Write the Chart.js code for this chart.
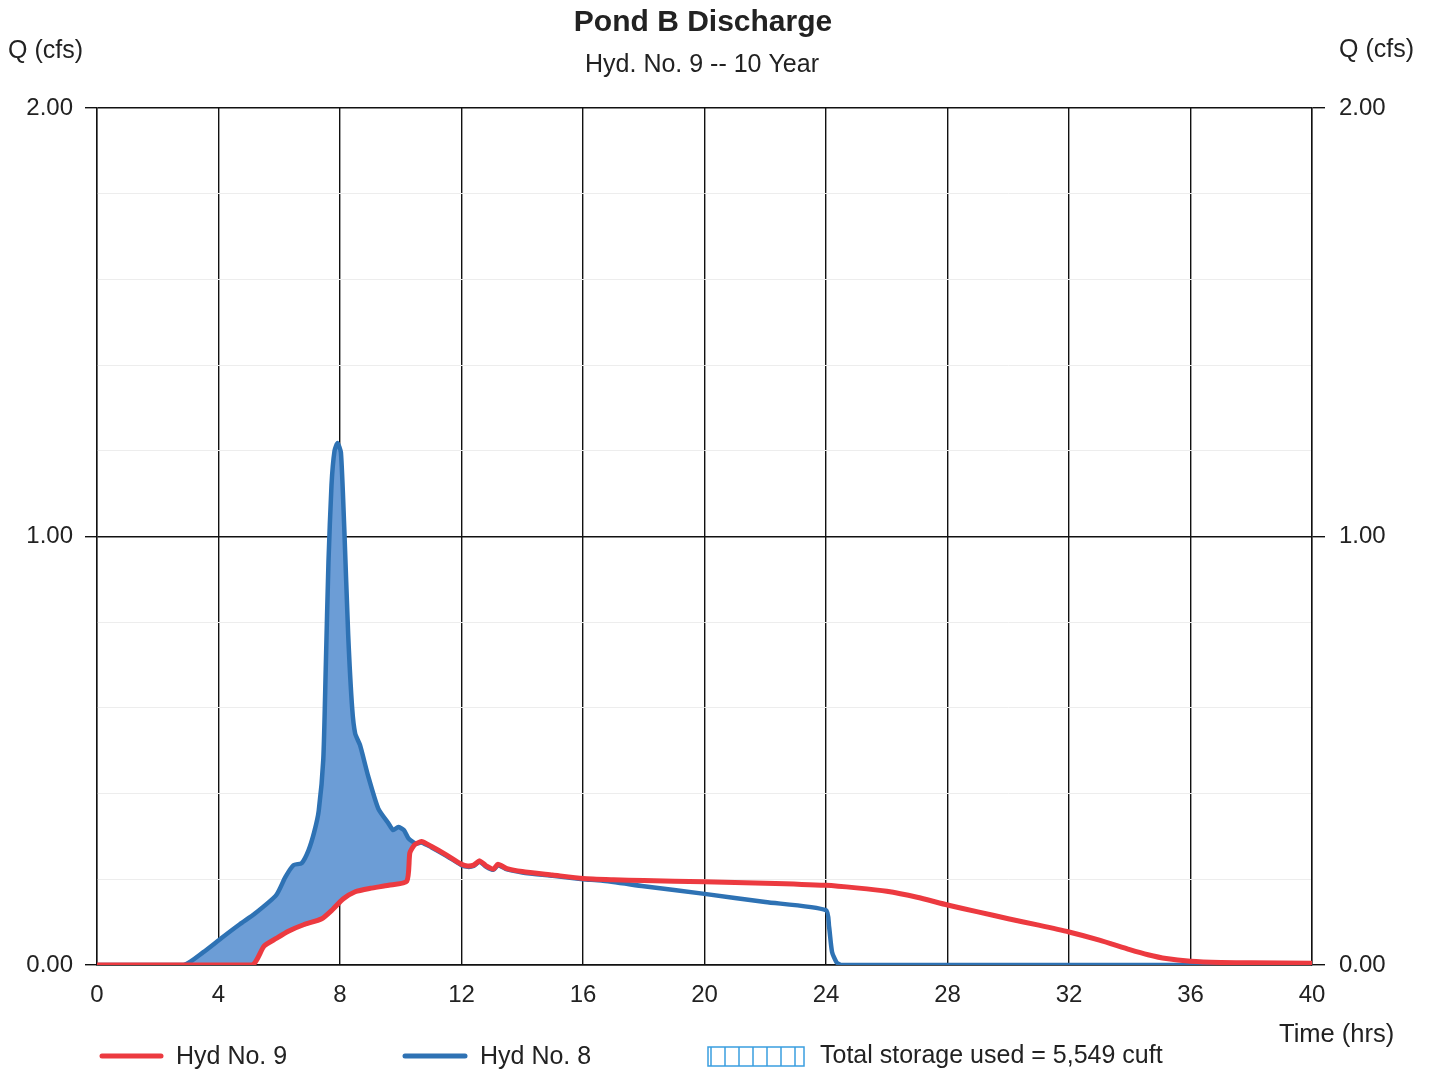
<!DOCTYPE html>
<html>
<head>
<meta charset="utf-8">
<script src="https://cdn.jsdelivr.net/npm/chart.js@4.4.1/dist/chart.umd.min.js"></script>
<style>
  html, body { margin: 0; padding: 0; background: #ffffff; }
  #wrap { width: 1435px; height: 1072px; position: relative; }
</style>
</head>
<body>
<div id="wrap"><canvas id="c" width="1435" height="1072"></canvas></div>
<script>
// ---- Data ----
const chartTitle = "Pond B Discharge";
const chartSubtitle = "Hyd. No. 9 -- 10 Year";
const yAxisTitle = "Q (cfs)";
const xAxisTitle = "Time (hrs)";
const storageLabel = "Total storage used = 5,549 cuft";

const xTicks = [0, 4, 8, 12, 16, 20, 24, 28, 32, 36, 40];
const yTicks = [0, 1, 2];

// Hyd No. 9 (outflow, red)
const hyd9Time = [0, 5.1, 5.5, 5.9, 6.3, 6.8, 7.4, 7.75, 8.1, 8.5, 9.0, 9.6, 10.2, 10.3, 10.45, 10.68, 11.0, 11.5, 12.0, 12.2, 12.4, 12.6, 12.8, 13.05, 13.2, 13.5, 14.0, 15.0, 16.0, 17.0, 18.0, 20.0, 22.0, 24.0, 25.0, 26.0, 27.0, 28.0, 29.0, 30.0, 31.0, 32.0, 33.0, 34.0, 34.6, 35.2, 36.0, 37.0, 38.0, 40.0];
const hyd9Q    = [0, 0, 0.044, 0.062, 0.079, 0.094, 0.108, 0.129, 0.154, 0.171, 0.179, 0.186, 0.196, 0.262, 0.28, 0.288, 0.277, 0.257, 0.235, 0.231, 0.233, 0.243, 0.232, 0.224, 0.235, 0.225, 0.218, 0.21, 0.202, 0.199, 0.197, 0.194, 0.191, 0.186, 0.18, 0.172, 0.158, 0.14, 0.124, 0.108, 0.093, 0.077, 0.058, 0.036, 0.024, 0.015, 0.009, 0.006, 0.005, 0.004];

// Hyd No. 8 (inflow, blue)
const hyd8Time = [0, 2.85, 3.5, 4.1, 4.7, 5.2, 5.9, 6.2, 6.47, 6.74, 6.96, 7.15, 7.3, 7.45, 7.53, 7.62, 7.72, 7.82, 7.92, 8.03, 8.14, 8.27, 8.4, 8.5, 8.66, 8.93, 9.26, 9.6, 9.75, 9.92, 10.1, 10.25, 10.5, 10.68, 11.0, 11.5, 12.0, 12.2, 12.4, 12.6, 12.8, 13.05, 13.2, 13.5, 14.0, 15.0, 16.0, 16.6, 18.0, 20.0, 22.0, 24.0, 24.1, 24.2, 24.35, 24.5, 28.0, 32.0, 36.0, 40.0];
const hyd8Q    = [0, 0, 0.03, 0.063, 0.095, 0.12, 0.163, 0.205, 0.233, 0.238, 0.267, 0.31, 0.36, 0.48, 0.69, 0.94, 1.12, 1.2, 1.218, 1.196, 1.02, 0.77, 0.6, 0.54, 0.513, 0.44, 0.365, 0.33, 0.315, 0.322, 0.315, 0.296, 0.283, 0.286, 0.275, 0.255, 0.233, 0.229, 0.231, 0.241, 0.23, 0.222, 0.233, 0.223, 0.216, 0.208, 0.2, 0.197, 0.184, 0.166, 0.147, 0.128, 0.09, 0.03, 0.006, 0, 0, 0, 0, 0];

// ---- Helpers ----
const toXY = (xs, ys) => xs.map((x, i) => ({ x: x, y: ys[i] }));
const isMajor = v => Math.abs(v - Math.round(v)) < 1e-6;
const FONT = "'Liberation Sans', Arial, sans-serif";

const overlayPlugin = {
  id: 'overlay',
  afterDraw(chart) {
    const ctx = chart.ctx;
    ctx.save();
    ctx.fillStyle = '#222';
    ctx.textBaseline = 'middle';
    // title
    ctx.textAlign = 'center';
    ctx.font = 'bold 30px ' + FONT;
    ctx.fillText(chartTitle, 703, 23);
    ctx.font = '25px ' + FONT;
    ctx.fillText(chartSubtitle, 702, 65);
    // axis titles
    ctx.textAlign = 'left';
    ctx.fillText(yAxisTitle, 8, 51);
    ctx.fillText(yAxisTitle, 1339, 50);
    ctx.font = '25.5px ' + FONT;
    ctx.fillText(xAxisTitle, 1279, 1035);
    // legend
    ctx.font = '25px ' + FONT;
    ctx.lineCap = 'round';
    ctx.lineWidth = 5;
    ctx.strokeStyle = '#ec3a40';
    ctx.beginPath(); ctx.moveTo(102, 1056); ctx.lineTo(161, 1056); ctx.stroke();
    ctx.strokeStyle = '#2e72b4';
    ctx.beginPath(); ctx.moveTo(405, 1056); ctx.lineTo(465, 1056); ctx.stroke();
    ctx.fillText('Hyd No. 9', 176, 1057);
    ctx.fillText('Hyd No. 8', 480, 1057);
    ctx.fillText(storageLabel, 820, 1056);
    // storage pattern box
    ctx.lineCap = 'butt';
    ctx.lineWidth = 1.5;
    ctx.strokeStyle = '#3a9ee0';
    ctx.strokeRect(708, 1047, 96, 19);
    ctx.beginPath();
    for (let x = 711; x < 804; x += 14) {
      ctx.moveTo(x, 1047); ctx.lineTo(x, 1066);
    }
    ctx.stroke();
    ctx.restore();
  }
};

const yTickCb = v => (isMajor(v) && yTicks.includes(Math.round(v))) ? Math.round(v).toFixed(2) : '';

new Chart(document.getElementById('c'), {
  type: 'line',
  data: {
    datasets: [
      {
        label: 'Hyd No. 9',
        data: toXY(hyd9Time, hyd9Q),
        borderColor: '#ec3a40',
        borderWidth: 5,
        pointRadius: 0,
        fill: false,
        tension: 0.2,
        yAxisID: 'y'
      },
      {
        label: 'Hyd No. 8',
        data: toXY(hyd8Time, hyd8Q),
        borderColor: '#2e72b4',
        borderWidth: 4.5,
        pointRadius: 0,
        tension: 0.2,
        fill: { target: 0, above: '#6c9dd6', below: 'rgba(0,0,0,0)' },
        yAxisID: 'y'
      }
    ]
  },
  options: {
    responsive: false,
    devicePixelRatio: 1,
    animation: false,
    events: [],
    layout: { padding: { top: 108, left: 0, right: 0, bottom: 0 } },
    plugins: {
      legend: { display: false },
      title: { display: false },
      tooltip: { enabled: false },
      filler: { propagate: false }
    },
    scales: {
      x: {
        type: 'linear',
        min: 0, max: 40,
        afterBuildTicks: s => { s.ticks = xTicks.map(v => ({ value: v })); },
        afterFit: s => { s.height = 107; },
        ticks: {
          color: '#222',
          font: { family: FONT, size: 24 },
          padding: 16,
          maxRotation: 0,
          callback: v => String(v)
        },
        grid: { color: '#111', lineWidth: 1.4, drawTicks: false },
        border: { color: '#111', width: 1.4 }
      },
      y: {
        position: 'left',
        min: 0, max: 2,
        afterBuildTicks: s => {
          const t = [];
          for (let k = 0; k <= 10; k++) t.push({ value: +(k * 0.2).toFixed(1) });
          s.ticks = t;
        },
        afterFit: s => { s.width = 97; },
        ticks: {
          color: '#222',
          font: { family: FONT, size: 24 },
          padding: 12,
          autoSkip: false,
          callback: yTickCb
        },
        grid: {
          color: c => isMajor(c.tick.value) ? '#111' : '#ededed',
          lineWidth: c => isMajor(c.tick.value) ? 1.4 : 1,
          tickColor: c => isMajor(c.tick.value) ? '#111' : 'rgba(0,0,0,0)',
          tickLength: 12
        },
        border: { color: '#111', width: 1.4 }
      },
      y2: {
        position: 'right',
        min: 0, max: 2,
        afterBuildTicks: s => { s.ticks = yTicks.map(v => ({ value: v })); },
        afterFit: s => { s.width = 123; },
        ticks: {
          color: '#222',
          font: { family: FONT, size: 24 },
          padding: 14,
          callback: yTickCb
        },
        grid: { drawOnChartArea: false, color: '#111', lineWidth: 1.4, tickLength: 13 },
        border: { color: '#111', width: 1.4 }
      }
    }
  },
  plugins: [overlayPlugin]
});
</script>
</body>
</html>
